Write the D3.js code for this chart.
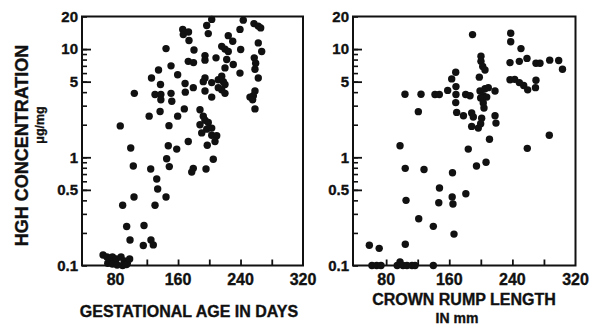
<!DOCTYPE html>
<html><head><meta charset="utf-8">
<script src="https://cdn.jsdelivr.net/npm/d3@7"></script>
<style>
html,body{margin:0;padding:0;background:#fff;}
text{font-family:"Liberation Sans",Arial,sans-serif;font-weight:bold;fill:#111;stroke:#111;stroke-width:0.35px;}
</style></head>
<body><div id="chart"></div>
<script>
// ---- data ----
const gestAge = [86,104,123,126,135,130.5,137.5,138,138,137,144.6,148.4,151,152,151,159.5,159.5,166,166.7,173.4,174,180.4,173.1,179.8,169,169.3,179.5,168,
203.1,243.5,257.2,262.7,265.8,196.7,198.7,239.3,224.3,230,262.7,267.1,215.9,220.1,224.3,240.2,194.5,194.5,208.6,222.3,257.6,259.4,258.5,230.7,220.1,239.3,215.9,194.5,192.3,262.7,211.5,218,203.1,220.1,215.9,211.5,194.5,203.1,220.1,258.5,256.4,252.1,255.6,258.5,188.1,192.3,194.5,188.1,198.7,196.7,203.1,190.3,203.1,209.5,207.3,
99.4,147.5,158.3,173.1,145.4,148.8,179.5,177.5,195.8,205.1,197.4,102.7,125,132.7,133.9,144.6,103.6,89.1,130.5,94.2,116.4,98.5,125.3,128.3,115.5,
64,69,73,76,81,87,91,95,70,76,82,89,94,98];
const gestConc = [1.95,3.9,2.4,5.4,6.4,3.8,4.7,3.8,3.4,2.65,10.1,1.96,3.9,3.3,7.0,5.8,2.4,15.2,13.6,14.4,12.0,9.8,7.7,7.5,4.8,4.0,4.4,2.8,
18.8,18.5,17.2,16.3,15.7,16.5,13.9,15.2,13.3,11.8,11.4,9.5,10.6,10.0,9.5,9.9,8.7,7.9,8.3,8.0,8.3,7.4,6.5,7.2,6.7,6.0,5.6,5.4,5.0,5.4,5.2,5.0,4.9,4.7,4.2,4.4,4.1,3.6,3.9,4.1,3.7,3.6,3.4,2.8,2.75,2.4,2.2,2.0,2.1,1.82,1.86,1.68,1.6,1.58,1.4,
1.22,1.28,1.19,1.4,0.97,0.82,0.79,0.73,0.78,0.96,1.29,0.83,0.78,0.63,0.51,0.43,0.43,0.36,0.36,0.229,0.234,0.172,0.172,0.155,0.153,
0.125,0.12,0.115,0.12,0.115,0.12,0.11,0.105,0.105,0.103,0.101,0.1,0.102,0.115];

const crownRump = [97.6,103.9,124.2,141.9,147.4,158,120.8,168.2,163.1,168.5,168.5,168.2,169.4,178,180.8,186.3,189.5,200.2,200.2,202.4,205.3,198.1,199,205.3,209.5,203.1,199.8,207.5,203.1,204,218,188.4,190.5,201.1,199.8,196.8,218,219.2,188.4,211,
237.9,237.9,250.9,237,248.8,258.5,269.9,275,287.3,298.7,303.5,237,242.9,248.8,254.3,259.4,269.9,269.3,286.8,258.9,184.1,
194.5,206.6,104.2,128,164.1,147.6,163.7,164.7,181,105.2,146.7,121.3,139.8,166,58.7,71.2,104.3,
62,68,73.5,94,97.6,101.4,106.4,112.8,116.6,139.8];
const crownConc = [1.28,3.83,3.83,3.8,3.8,4.15,2.64,6.1,5.3,4.5,3.8,3.2,2.6,2.42,3.8,3.7,13.6,8.6,7.7,6.9,6.4,5.5,4.1,4.3,4.4,3.7,3.53,3.6,3.18,2.85,4.1,2.57,2.36,2.3,2.04,1.86,2.42,2.07,1.93,1.47,
14.0,11.7,10.1,7.5,7.7,8.2,7.4,7.4,7.9,7.85,6.5,5.2,5.25,4.9,4.6,4.2,5.15,4.4,1.6,1.21,1.19,
0.83,0.9,0.79,0.77,0.72,0.52,0.43,0.37,0.46,0.40,0.38,0.27,0.23,0.195,0.154,0.144,0.157,
0.1,0.1,0.1,0.1,0.108,0.1,0.1,0.1,0.1,0.1];

const yTickLabels = ["20","10","5","1","0.5","0.1"];
const yTickValues = [20,10,5,1,0.5,0.1];
const xTickValues = [80,120,160,200,240,280];
const xLabelValues = [80,160,240,320];
const yTitle = "HGH CONCENTRATION";
const yUnit = "\u03bcg/mg";
const leftTitle = "GESTATIONAL AGE IN DAYS";
const rightTitle = ["CROWN RUMP LENGTH","IN mm"];

// ---- chart ----
const W = 596, H = 326;
const svg = d3.select("#chart").append("svg").attr("width", W).attr("height", H);
const plotTop = 16.5, plotBottom = 265.5;
const y = d3.scaleLog().domain([0.1, 20]).range([plotBottom, plotTop]);

const minorY = [];
[0.1, 1, 10].forEach(d => { for (let k = 1; k <= 9; k++) { const v = +(d * k).toPrecision(3); if (v <= 20) minorY.push(v); } });
const majorY = [0.5, 1, 5, 10];

function panel(x0, x1, domain, xs, ys) {
  const x = d3.scaleLinear().domain(domain).range([x0, x1]);
  const g = svg.append("g");
  g.append("g").attr("transform", `translate(${x0},0)`)
    .call(d3.axisLeft(y).tickValues(minorY).tickSize(-5).tickFormat(""))
    .call(a => { a.select(".domain").remove(); a.selectAll("line").attr("stroke", "#111").attr("stroke-width", 1.6); });
  g.append("g").attr("transform", `translate(${x0},0)`)
    .call(d3.axisLeft(y).tickValues(majorY).tickSize(-9).tickFormat(""))
    .call(a => { a.select(".domain").remove(); a.selectAll("line").attr("stroke", "#111").attr("stroke-width", 1.8); });
  g.append("g").attr("transform", `translate(0,${plotBottom})`)
    .call(d3.axisBottom(x).tickValues(xTickValues).tickSize(-6).tickFormat(""))
    .call(a => { a.select(".domain").remove(); a.selectAll("line").attr("stroke", "#111").attr("stroke-width", 1.8); });
  g.append("rect").attr("x", x0).attr("y", plotTop).attr("width", x1 - x0).attr("height", plotBottom - plotTop)
    .attr("fill", "none").attr("stroke", "#111").attr("stroke-width", 2);
  g.selectAll("text.yl").data(yTickValues).enter().append("text").attr("class", "yl")
    .attr("x", x0 - 4).attr("y", d => y(d)).attr("dy", "0.36em")
    .attr("text-anchor", "end").style("font-size", "15px")
    .text((d, i) => yTickLabels[i]);
  g.selectAll("text.xl").data(xLabelValues).enter().append("text").attr("class", "xl")
    .attr("x", d => x(d)).attr("y", 285)
    .attr("text-anchor", "middle").style("font-size", "16px")
    .text(d => String(d));
  g.selectAll("circle").data(xs.map((v, i) => [v, ys[i]])).enter().append("circle")
    .attr("cx", d => x(d[0])).attr("cy", d => y(d[1])).attr("r", 3.7).attr("fill", "#111");
  return x;
}

panel(82, 303, [37, 320], gestAge, gestConc);
panel(353, 575.5, [38, 320], crownRump, crownConc);

svg.append("text").attr("transform", "translate(28,145.5) rotate(-90)")
  .attr("text-anchor", "middle").style("font-size", "18px").text(yTitle);
svg.append("text").attr("transform", "translate(44,125) rotate(-90)")
  .attr("text-anchor", "middle").style("font-size", "12.5px").text(yUnit);
svg.append("text").attr("x", 189).attr("y", 316.5)
  .attr("text-anchor", "middle").style("font-size", "16px").text(leftTitle);
svg.append("text").attr("x", 464).attr("y", 305)
  .attr("text-anchor", "middle").style("font-size", "16px").text(rightTitle[0]);
svg.append("text").attr("x", 457).attr("y", 323)
  .attr("text-anchor", "middle").style("font-size", "14px").text(rightTitle[1]);
</script>
</body></html>
